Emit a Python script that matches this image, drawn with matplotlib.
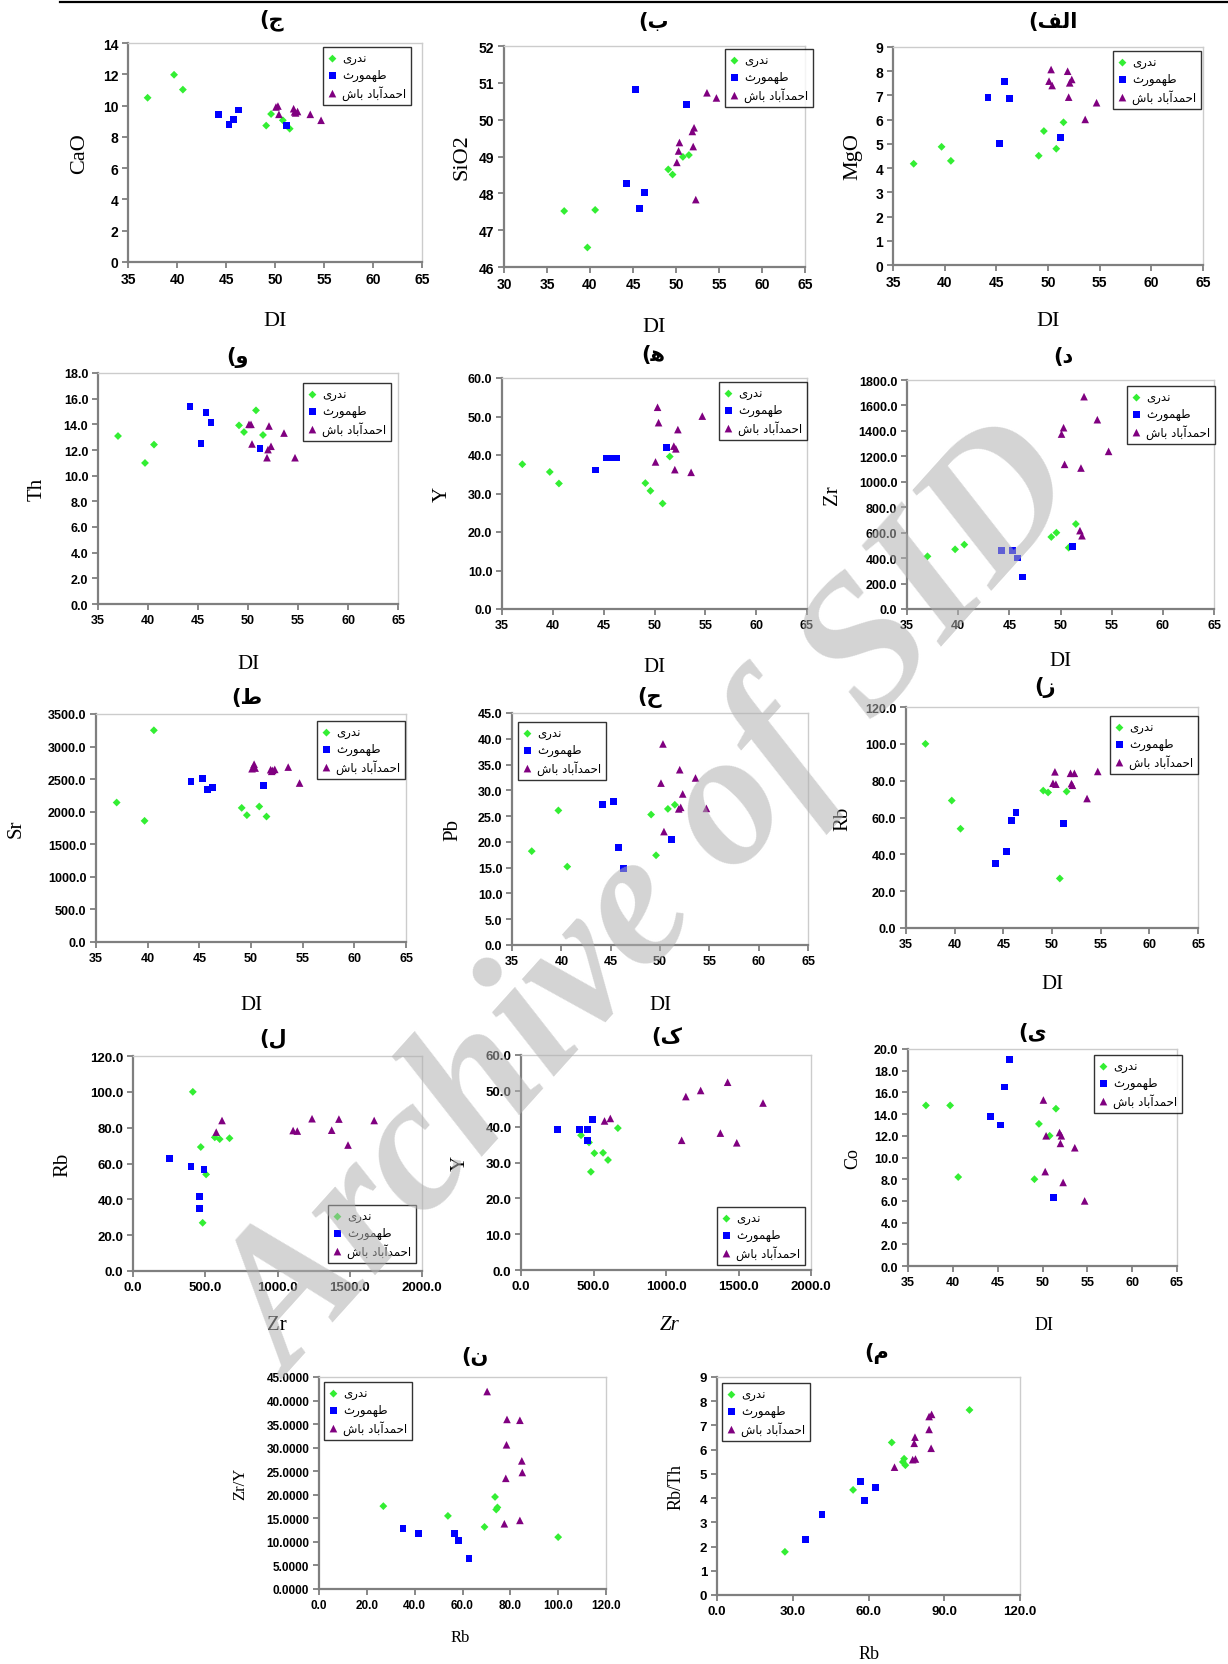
import matplotlib
matplotlib.use("Agg")
import matplotlib.pyplot as plt
from matplotlib.lines import Line2D
from matplotlib.ticker import FormatStrFormatter
import numpy as np

W, H = 1228, 1665

# three localities: green / blue / purple
GROUP_NAMES = ["ندری", "طهمورث", "احمدآباد باش"]
GROUP_COLORS = ["#33ee33", "#0000ff", "#800080"]
GROUP_MARKERS = ["D", "s", "^"]
GROUP_SIZES = [16, 24, 30]

# differentiation index of each sample
DI = ([37.0, 39.7, 40.6, 49.1, 49.6, 50.8, 51.5],
      [44.2, 45.3, 45.8, 46.3, 51.2],
      [50.1, 50.3, 50.4, 51.9, 52.0, 52.1, 52.3, 53.6, 54.7])

MGO = ([4.18, 4.88, 4.30, 4.51, 5.53, 4.80, 5.89],
       [6.93, 5.02, 7.57, 6.88, 5.27],
       [7.59, 8.07, 7.41, 8.00, 6.93, 7.52, 7.66, 6.01, 6.70])
SIO2 = ([47.52, 46.53, 47.55, 48.65, 48.51, 48.99, 49.04],
        [48.27, 50.82, 47.59, 48.02, 50.41],
        [48.84, 49.15, 49.38, 49.68, 49.27, 49.78, 47.83, 50.73, 50.59])
CAO = ([10.50, 11.97, 11.02, 8.72, 9.46, 9.06, 8.52],
       [9.44, 8.80, 9.12, 9.72, 8.74],
       [9.91, 9.97, 9.44, 9.80, 9.60, 9.53, 9.62, 9.44, 9.06])
TH = ([13.09, 10.99, 12.42, 13.92, 13.40, 15.09, 13.17],
      [15.38, 12.52, 14.94, 14.13, 12.10],
      [14.0, 14.0, 12.47, 11.4, 12.03, 13.87, 12.29, 13.32, 11.4])
Y = ([37.6, 35.6, 32.6, 32.7, 30.7, 27.4, 39.6],
     [36.1, 39.2, 39.2, 39.2, 41.9],
     [38.2, 52.4, 48.4, 42.3, 36.2, 41.6, 46.6, 35.5, 50.1])
ZR = ([414, 469, 506, 566, 600, 482, 668],
      [461, 461, 401, 251, 492],
      [1375, 1425, 1137, 616, 1108, 576, 1669, 1488, 1239])
SR = ([2141, 1860, 3250, 2059, 1947, 2080, 1926],
      [2458, 2514, 2340, 2376, 2397],
      [2660, 2730, 2670, 2645, 2620, 2635, 2650, 2685, 2440])
PB = ([18.2, 26.1, 15.2, 25.3, 17.4, 26.4, 27.2],
      [27.3, 27.9, 18.9, 14.9, 20.5],
      [31.4, 39.0, 22.0, 26.4, 34.0, 26.7, 29.3, 32.4, 26.5])
RB = ([100.0, 69.2, 53.9, 74.6, 73.6, 26.9, 74.1],
      [35.1, 41.6, 58.4, 62.7, 56.8],
      [78.6, 84.8, 78.1, 84.0, 78.4, 77.5, 84.0, 70.3, 85.0])
CO = ([14.8, 14.8, 8.2, 8.0, 13.1, 12.0, 14.5],
      [13.8, 13.0, 16.5, 19.0, 6.3],
      [15.3, 8.7, 12.0, 12.3, 11.3, 12.0, 7.7, 10.9, 6.0])

ZR_Y = tuple(list(np.array(z) / np.array(y)) for z, y in zip(ZR, Y))
RB_TH = tuple(list(np.array(r) / np.array(t)) for r, t in zip(RB, TH))

# Persian letters -> (isolated, final, initial, medial); None = does not join forward
FORMS = {
    "ا": ("\uFE8D", "\uFE8E", None, None),
    "آ": ("\uFE81", "\uFE82", None, None),
    "ب": ("\uFE8F", "\uFE90", "\uFE91", "\uFE92"),
    "ث": ("\uFE99", "\uFE9A", "\uFE9B", "\uFE9C"),
    "ح": ("\uFEA1", "\uFEA2", "\uFEA3", "\uFEA4"),
    "د": ("\uFEA9", "\uFEAA", None, None),
    "ر": ("\uFEAD", "\uFEAE", None, None),
    "ش": ("\uFEB5", "\uFEB6", "\uFEB7", "\uFEB8"),
    "ط": ("\uFEC1", "\uFEC2", "\uFEC3", "\uFEC4"),
    "ف": ("\uFED1", "\uFED2", "\uFED3", "\uFED4"),
    "ل": ("\uFEDD", "\uFEDE", "\uFEDF", "\uFEE0"),
    "م": ("\uFEE1", "\uFEE2", "\uFEE3", "\uFEE4"),
    "ن": ("\uFEE5", "\uFEE6", "\uFEE7", "\uFEE8"),
    "ه": ("\uFEE9", "\uFEEA", "\uFEEB", "\uFEEC"),
    "و": ("\uFEED", "\uFEEE", None, None),
    "ی": ("\uFBFC", "\uFBFD", "\uFBFE", "\uFBFF"),
}


def shape_fa(text):
    # matplotlib has no bidi / joining, so pick contextual forms and reverse
    out = []
    for i, ch in enumerate(text):
        forms = FORMS.get(ch)
        if forms is None:
            out.append(ch)
            continue
        prev = FORMS.get(text[i - 1]) if i > 0 else None
        nxt = FORMS.get(text[i + 1]) if i + 1 < len(text) else None
        join_prev = prev is not None and prev[2] is not None
        join_next = nxt is not None and forms[2] is not None
        if join_prev and join_next:
            out.append(forms[3])
        elif join_prev:
            out.append(forms[1])
        elif join_next:
            out.append(forms[2])
        else:
            out.append(forms[0])
    return "".join(reversed(out))


def title_text(letter):
    # panel letter "ه" is written in its two-eyed form, as in the paper
    if letter == "ه":
        return "(" + FORMS["ه"][2]
    return "(" + shape_fa(letter)


DI_TICKS = [35, 40, 45, 50, 55, 60, 65]

# (x data, y data, title letter, ylabel, xlabel, rect px l,t,r,b, xticks, yticks, y fmt, x fmt,
#  title xy, ylabel x, xlabel xy, legend top-left, tick size, axis label size)
PANELS = [
    (DI, CAO, "ج", "CaO", "DI", (128, 44, 422, 263), DI_TICKS, range(0, 15, 2), "%d", "%d",
     (272, 20), 80, (275, 322), (323, 48), 10, 16),
    (DI, SIO2, "ب", "SiO2", "DI", (504, 47, 805, 268), range(30, 66, 5), range(46, 53), "%d", "%d",
     (653, 22), 462, (654, 328), (725, 50), 10, 16),
    (DI, MGO, "الف", "MgO", "DI", (893, 48, 1203, 266), DI_TICKS, range(0, 10), "%d", "%d",
     (1053, 22), 853, (1048, 322), (1113, 52), 10, 16),
    (DI, TH, "و", "Th", "DI", (98, 374, 398, 605), DI_TICKS, range(0, 19, 2), "%.1f", "%d",
     (238, 358), 37, (248, 665), (303, 384), 9, 15),
    (DI, Y, "ه", "Y", "DI", (502, 379, 807, 610), DI_TICKS, range(0, 61, 10), "%.1f", "%d",
     (653, 355), 442, (654, 668), (719, 383), 9, 15),
    (DI, ZR, "د", "Zr", "DI", (907, 381, 1214, 610), DI_TICKS, range(0, 1801, 200), "%.1f", "%d",
     (1063, 357), 833, (1060, 662), (1127, 387), 9, 15),
    (DI, SR, "ط", "Sr", "DI", (96, 715, 406, 943), DI_TICKS, range(0, 3501, 500), "%.1f", "%d",
     (247, 698), 16, (251, 1005), (317, 722), 9, 15),
    (DI, PB, "ح", "Pb", "DI", (512, 714, 808, 946), DI_TICKS, range(0, 46, 5), "%.1f", "%d",
     (650, 698), 453, (660, 1005), (518, 723), 9, 15),
    (DI, RB, "ز", "Rb", "DI", (906, 708, 1198, 929), DI_TICKS, range(0, 121, 20), "%.1f", "%d",
     (1045, 688), 843, (1052, 985), (1110, 717), 9, 15),
    (ZR, RB, "ل", "Rb", "Zr", (133, 1057, 422, 1272), range(0, 2001, 500), range(0, 121, 20), "%.1f", "%.1f",
     (273, 1038), 63, (277, 1325), (328, 1206), 9.5, 15),
    (ZR, Y, "ک", "Y", "Zr", (521, 1056, 811, 1271), range(0, 2001, 500), range(0, 61, 10), "%.1f", "%.1f",
     (667, 1037), 460, (670, 1325), (717, 1208), 9.5, 15),
    (DI, CO, "ی", "Co", "DI", (908, 1050, 1177, 1267), DI_TICKS, range(0, 21, 2), "%.1f", "%d",
     (1033, 1033), 853, (1044, 1325), (1094, 1056), 9, 13),
    (RB, ZR_Y, "ن", "Zr/Y", "Rb", (319, 1378, 606, 1590), range(0, 121, 20), range(0, 46, 5), "%.4f", "%.1f",
     (475, 1357), 240, (460, 1638), (324, 1383), 8.5, 12),
    (RB, RB_TH, "م", "Rb/Th", "Rb", (717, 1378, 1020, 1596), range(0, 121, 30), range(0, 10), "%d", "%.1f",
     (877, 1354), 676, (869, 1655), (722, 1384), 9.5, 13),
]

fig = plt.figure(figsize=(W / 100, H / 100), dpi=100)
fig.add_artist(Line2D([60 / W, 1.0], [1 - 3 / H, 1 - 3 / H], color="black", lw=1.6))

for (xs, ys, letter, ylab, xlab, rect, xt, yt, yfmt, xfmt,
     title_xy, ylab_x, xlab_xy, leg_xy, tsize, lsize) in PANELS:
    l, t, r, b = rect
    ax = fig.add_axes([l / W, 1 - b / H, (r - l) / W, (b - t) / H])
    for gx, gy, name, c, m, s in zip(xs, ys, GROUP_NAMES, GROUP_COLORS, GROUP_MARKERS, GROUP_SIZES):
        ax.scatter(gx, gy, marker=m, s=s, color=c, edgecolors="none", label=shape_fa(name), zorder=3)
    xt, yt = list(xt), list(yt)
    ax.set_xlim(xt[0], xt[-1])
    ax.set_ylim(yt[0], yt[-1])
    ax.set_xticks(xt)
    ax.set_yticks(yt)
    ax.xaxis.set_major_formatter(FormatStrFormatter(xfmt))
    ax.yaxis.set_major_formatter(FormatStrFormatter(yfmt))
    for side in ("left", "bottom"):
        ax.spines[side].set_color("#7f7f7f")
        ax.spines[side].set_linewidth(1.6)
    for side in ("top", "right"):
        ax.spines[side].set_color("#cccccc")
        ax.spines[side].set_linewidth(1.0)
    ax.tick_params(direction="out", length=4, width=1.3, color="#7f7f7f", pad=3)
    for lab in ax.get_xticklabels() + ax.get_yticklabels():
        lab.set_fontfamily("Liberation Sans")
        lab.set_fontweight("bold")
        lab.set_fontsize(tsize)

    leg = ax.legend(loc="upper left", bbox_to_anchor=(leg_xy[0] / W, 1 - leg_xy[1] / H),
                    bbox_transform=fig.transFigure, borderaxespad=0, frameon=True, fancybox=False,
                    prop={"family": "DejaVu Sans", "size": 8.5}, scatterpoints=1, handlelength=0.8,
                    handletextpad=0.4, labelspacing=0.3, borderpad=0.4)
    leg.get_frame().set_edgecolor("black")
    leg.get_frame().set_linewidth(1.0)

    fig.text(title_xy[0] / W, 1 - title_xy[1] / H, title_text(letter), ha="center", va="center",
             fontsize=15, fontweight="bold", family="DejaVu Sans")
    fig.text(ylab_x / W, 1 - ((t + b) / 2) / H, ylab, rotation=90, ha="center", va="center",
             fontsize=lsize, family="Liberation Serif")
    fig.text(xlab_xy[0] / W, 1 - xlab_xy[1] / H, xlab, ha="center", va="center",
             fontsize=lsize, family="Liberation Serif",
             style="italic" if letter == "ک" else "normal")

# watermark across the page
fig.text(655 / W, 1 - 905 / H, "Archive of SID", rotation=48, ha="center", va="center",
         fontsize=138, fontweight="bold", style="italic", family="Liberation Serif",
         color="#b0b0b0", alpha=0.55)

fig.savefig("out.png", dpi=100)
